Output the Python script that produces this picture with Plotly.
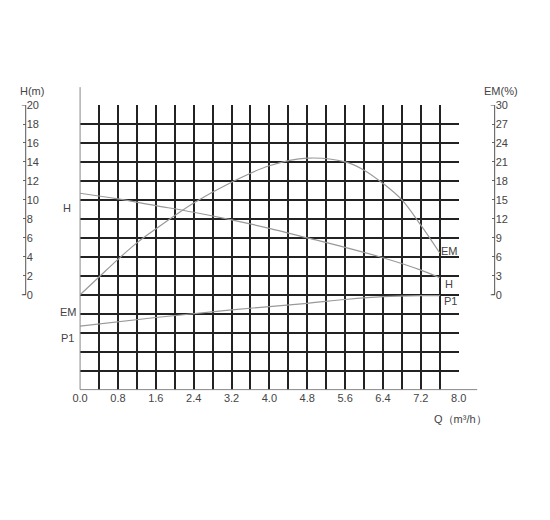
import plotly.graph_objects as go

# flow Q (m3/h)
q_h = [0.0, 0.8, 1.6, 2.4, 3.2, 4.0, 4.8, 5.6, 6.4, 7.2, 7.6]
head = [10.7, 10.1, 9.4, 8.7, 7.9, 7.0, 6.0, 5.0, 3.9, 2.6, 1.8]

q_em = [0.0, 0.4, 0.8, 1.2, 1.6, 2.4, 3.2, 4.0, 4.8, 5.6, 6.0, 6.4, 6.8, 7.2, 7.6]
eff = [0.0, 2.8, 5.6, 8.2, 10.4, 14.5, 17.8, 20.4, 21.6, 21.0, 19.7, 17.6, 15.0, 11.0, 6.6]

q_p1 = [0.0, 1.6, 3.2, 4.8, 5.6, 6.4, 7.2, 7.6]
p1 = [-3.3, -2.4, -1.6, -0.9, -0.5, -0.2, -0.1, -0.1]

x_ticks = [0.0, 0.8, 1.6, 2.4, 3.2, 4.0, 4.8, 5.6, 6.4, 7.2, 8.0]
h_ticks = list(range(0, 21, 2))
em_ticks = list(range(0, 31, 3))

OFF = 12  # page offset compensation


def px(v):
    return (v - OFF) / 550


def py(v):
    return 1 - (v - OFF) / 520


line = dict(color="#999", width=1.2)
fig = go.Figure()
fig.add_trace(go.Scatter(x=q_h, y=head, mode="lines", line=line, line_shape="spline"))
fig.add_trace(go.Scatter(x=q_em, y=eff, mode="lines", line=line, line_shape="spline", yaxis="y2"))
fig.add_trace(go.Scatter(x=q_p1, y=p1, mode="lines", line=line, line_shape="spline"))
fig.add_trace(go.Scatter(x=[None], y=[None], yaxis="y3"))

txt = dict(family="Liberation Sans, Arial", size=11, color="#444")
grid = "#222"
fig.update_layout(
    width=550, height=520, showlegend=False,
    plot_bgcolor="white", paper_bgcolor="white",
    margin=dict(l=0, r=0, t=0, b=0),
    font=txt,
    xaxis=dict(domain=[px(78), px(468)], range=[0, 8.001],
               tickvals=x_ticks, ticktext=[f"{v:.1f}" for v in x_ticks],
               showgrid=True, gridcolor=grid, gridwidth=1.5, zeroline=False,
               minor=dict(dtick=0.4, tick0=0, showgrid=True, gridcolor=grid, gridwidth=1.5),
               ticks="", tickfont=txt),
    yaxis=dict(domain=[py(392), py(104)], range=[-10, 20.01], dtick=2, tick0=0,
               showgrid=True, gridcolor=grid, gridwidth=1.5, zeroline=False,
               showticklabels=False, ticks=""),
    yaxis2=dict(overlaying="y", anchor="free", position=px(505), side="right",
                range=[-15, 30.015], tickvals=em_ticks, showgrid=False, zeroline=False,
                ticks="inside", ticklen=3, tickcolor="#666", tickfont=txt),
    yaxis3=dict(overlaying="y", anchor="free", position=px(22), side="right",
                range=[-10, 20.01], tickvals=h_ticks, showgrid=False, zeroline=False,
                ticks="inside", ticklen=3, tickcolor="#666", tickfont=txt),
)

shp = dict(color="#555", width=1)
for xb in (22, 505):
    fig.add_shape(type="line", xref="paper", yref="y", x0=px(xb), x1=px(xb), y0=0, y1=20, line=shp)
    fig.add_shape(type="line", xref="paper", yref="y", x0=px(xb - 4), x1=px(xb), y0=20, y1=20, line=shp)
    fig.add_shape(type="line", xref="paper", yref="y", x0=px(xb - 4), x1=px(xb), y0=0, y1=0, line=shp)
# axis lines
fig.add_shape(type="line", xref="paper", yref="paper", x0=px(78), x1=px(487),
              y0=py(392), y1=py(392), line=dict(color="#888", width=1))
fig.add_shape(type="line", xref="paper", yref="paper", x0=px(78), x1=px(78),
              y0=py(392), y1=py(86), line=dict(color="#888", width=1))

ann = [
    ("H(m)", 28, 90), ("EM(%)", 512, 90), ("Q（m³/h）", 470, 422),
    ("H", 65, 208), ("EM", 66, 313), ("P1", 65, 340),
    ("EM", 459, 252), ("H", 458, 285), ("P1", 460, 302),
]
for t, ax_, ay_ in ann:
    fig.add_annotation(text=t, x=px(ax_), y=py(ay_), xref="paper", yref="paper",
                       showarrow=False, font=txt, xanchor="center", yanchor="middle")

fig.write_html("out.html")
